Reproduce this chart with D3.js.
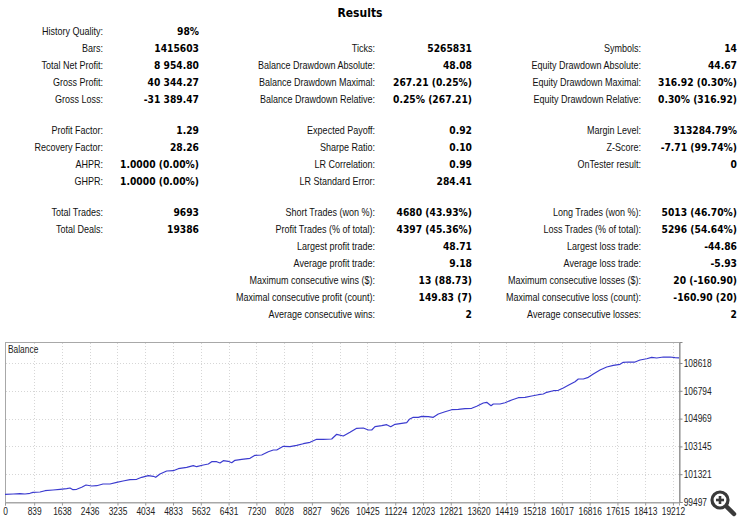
<!DOCTYPE html>
<html>
<head>
<meta charset="utf-8">
<script src="https://cdn.jsdelivr.net/npm/d3@7"></script>
<style>
  html, body { margin: 0; padding: 0; background: #fff; }
  svg { display: block; }
  .lbl { font-family: 'Liberation Sans', Arial, sans-serif; font-size: 11.4px; fill: #111; }
  .val { font-family: 'DejaVu Sans', sans-serif; font-size: 10px; font-weight: bold; fill: #000; }
  .ttl { font-family: 'DejaVu Sans', sans-serif; font-size: 12px; font-weight: bold; fill: #000; }
  .ax  { font-family: 'Liberation Sans', Arial, sans-serif; font-size: 10px; fill: #222; }
</style>
</head>
<body>
<svg id="chart" width="750" height="529"></svg>
<script>
// ---------------- DATA ----------------
const title = "Results";

const col1Labels = ["History Quality:", "Bars:", "Total Net Profit:", "Gross Profit:", "Gross Loss:", null,
  "Profit Factor:", "Recovery Factor:", "AHPR:", "GHPR:", null,
  "Total Trades:", "Total Deals:", null, null, null, null, null];
const col1Values = ["98%", "1415603", "8 954.80", "40 344.27", "-31 389.47", null,
  "1.29", "28.26", "1.0000 (0.00%)", "1.0000 (0.00%)", null,
  "9693", "19386", null, null, null, null, null];

const col2Labels = [null, "Ticks:", "Balance Drawdown Absolute:", "Balance Drawdown Maximal:", "Balance Drawdown Relative:", null,
  "Expected Payoff:", "Sharpe Ratio:", "LR Correlation:", "LR Standard Error:", null,
  "Short Trades (won %):", "Profit Trades (% of total):", "Largest profit trade:", "Average profit trade:",
  "Maximum consecutive wins ($):", "Maximal consecutive profit (count):", "Average consecutive wins:"];
const col2Values = [null, "5265831", "48.08", "267.21 (0.25%)", "0.25% (267.21)", null,
  "0.92", "0.10", "0.99", "284.41", null,
  "4680 (43.93%)", "4397 (45.36%)", "48.71", "9.18", "13 (88.73)", "149.83 (7)", "2"];

const col3Labels = [null, "Symbols:", "Equity Drawdown Absolute:", "Equity Drawdown Maximal:", "Equity Drawdown Relative:", null,
  "Margin Level:", "Z-Score:", "OnTester result:", null, null,
  "Long Trades (won %):", "Loss Trades (% of total):", "Largest loss trade:", "Average loss trade:",
  "Maximum consecutive losses ($):", "Maximal consecutive loss (count):", "Average consecutive losses:"];
const col3Values = [null, "14", "44.67", "316.92 (0.30%)", "0.30% (316.92)", null,
  "313284.79%", "-7.71 (99.74%)", "0", null, null,
  "5013 (46.70%)", "5296 (54.64%)", "-44.86", "-5.93", "20 (-160.90)", "-160.90 (20)", "2"];

// Balance curve (deal number, balance)
const dealIdx = [0, 239, 431, 575, 719, 805, 1007, 1151, 1381, 1582, 1775, 1870, 1956, 2062, 2206, 2330, 2494, 2638, 2819, 3020,
  3213, 3394, 3595, 3788, 3932, 4122, 4266, 4335, 4458, 4651, 4841, 4985, 5226, 5416, 5514, 5704, 5848, 5945, 6089, 6184,
  6279, 6423, 6521, 6615, 6808, 7047, 7191, 7383, 7573, 7717, 7815, 8005, 8197, 8390, 8580, 8773, 8965, 9155, 9397, 9541,
  9730, 9923, 10116, 10306, 10450, 10548, 10642, 10835, 10979, 11094, 11218, 11410, 11554, 11629, 11744, 11888, 11985, 12175, 12319, 12463,
  12656, 12848, 13038, 13231, 13424, 13568, 13757, 13855, 13979, 14045, 14238, 14382, 14574, 14764, 14957, 15150, 15340, 15483, 15581, 15771,
  15915, 16058, 16202, 16395, 16490, 16634, 16778, 16922, 17114, 17307, 17497, 17689, 17784, 17928, 18121, 18265, 18457, 18601, 18745, 18935,
  19127, 19271, 19386];
const balance = [100000, 100022, 100042, 100022, 100068, 100133, 100153, 100238, 100284, 100330, 100370, 100416, 100304, 100330, 100461, 100612, 100547, 100566, 100678, 100678,
  100789, 100875, 100960, 100986, 101118, 101223, 101183, 101118, 101334, 101531, 101551, 101682, 101774, 101879, 101813, 101925, 101990, 102141, 102141, 102056,
  102207, 102167, 102075, 102233, 102299, 102364, 102561, 102581, 102797, 102909, 102909, 103152, 103125, 103217, 103322, 103414, 103611, 103611, 103630, 103939,
  103827, 104070, 104332, 104352, 104221, 104221, 104438, 104503, 104569, 104438, 104595, 104661, 104700, 104923, 105054, 105054, 105120, 105094, 105054, 105270,
  105421, 105553, 105579, 105618, 105645, 105776, 105993, 106038, 105815, 105927, 105927, 106012, 106189, 106340, 106366, 106452, 106537, 106583, 106694, 106799,
  106826, 106977, 107154, 107390, 107567, 107567, 107679, 107895, 108158, 108354, 108466, 108532, 108663, 108682, 108682, 108814, 108899, 108991, 108945, 109010,
  109010, 108965, 108955];

const xTicks = [0, 839, 1638, 2436, 3235, 4034, 4833, 5632, 6431, 7230, 8028, 8827, 9626, 10425, 11224, 12023, 12821, 13620, 14419, 15218, 16017, 16816, 17615, 18413, 19212];
const yTicks = [99497, 101321, 103145, 104969, 106794, 108618];
const xMax = 19386;
const yMin = 99497, yMax = 109996;
const chartLabel = "Balance";

// ---------------- DRAW ----------------
const svg = d3.select("#chart");
const LBL_SX = 0.79, VAL_SX = 0.92, AX_SX = 0.84;

function putText(g, cls, x, y, txt, anchor, sx) {
  return g.append("text").attr("class", cls)
    .attr("transform", `translate(${x},${y}) scale(${sx},1)`)
    .attr("dy", "0.36em").attr("text-anchor", anchor).text(txt);
}

// Title
putText(svg, "ttl", 360, 13, title, "middle", 0.9);

// Table
function rowY(i) {
  let blanks = 0;
  [5, 10].forEach(b => { if (i > b) blanks++; });
  return 31 + 17 * i - 3 * blanks;
}
const cols = [
  { labels: col1Labels, values: col1Values, lx: 103, vx: 199 },
  { labels: col2Labels, values: col2Values, lx: 375, vx: 472 },
  { labels: col3Labels, values: col3Values, lx: 641, vx: 737 }
];
cols.forEach(c => {
  const g = svg.append("g");
  c.labels.forEach((t, i) => { if (t) putText(g, "lbl", c.lx, rowY(i), t, "end", LBL_SX); });
  c.values.forEach((t, i) => { if (t) putText(g, "val", c.vx, rowY(i), t, "end", VAL_SX); });
});

// Chart
const L = 5, T = 342, R = 679, B = 502;
const x = d3.scaleLinear().domain([0, xMax]).range([L, R]);
const y = d3.scaleLinear().domain([yMin, yMax]).range([B, T]);

const cg = svg.append("g");
cg.append("rect").attr("x", L + 0.5).attr("y", T + 0.5).attr("width", R - L).attr("height", B - T)
  .attr("fill", "#fff").attr("stroke", "#a8a8a8");

// grid
cg.selectAll("line.vg").data(xTicks.filter(t => t > 0)).join("line")
  .attr("x1", d => Math.round(x(d)) + 0.5).attr("x2", d => Math.round(x(d)) + 0.5)
  .attr("y1", T + 1).attr("y2", B)
  .attr("stroke", "#d6d6d6").attr("stroke-dasharray", "1,2");
cg.selectAll("line.hg").data(yTicks.filter(t => t > yMin)).join("line")
  .attr("x1", L + 1).attr("x2", R)
  .attr("y1", d => Math.round(y(d)) + 0.5).attr("y2", d => Math.round(y(d)) + 0.5)
  .attr("stroke", "#d6d6d6").attr("stroke-dasharray", "1,2");

// line
const line = d3.line().x((d, i) => x(dealIdx[i])).y(d => y(d));
cg.append("path").datum(balance).attr("d", line)
  .attr("fill", "none").attr("stroke", "#3b3bcf").attr("stroke-width", 1.2).attr("stroke-linejoin", "round");

// axes
const xAxis = d3.axisBottom(x).tickValues(xTicks).tickSize(3).tickPadding(2).tickFormat(d => d);
const xg = cg.append("g").attr("transform", `translate(0,${B + 0.5})`).call(xAxis);
xg.attr("font-family", null).attr("font-size", null);
xg.select(".domain").attr("stroke", "#a8a8a8");
xg.selectAll(".tick line").attr("stroke", "#999");
xg.selectAll(".tick text").attr("class", "ax").attr("fill", null)
  .attr("transform", `scale(${AX_SX},1)`);

const yAxis = d3.axisRight(y).tickValues(yTicks).tickSize(3).tickPadding(2).tickFormat(d => d);
const yg = cg.append("g").attr("transform", `translate(${R + 0.5},0)`).call(yAxis);
yg.attr("font-family", null).attr("font-size", null);
yg.select(".domain").attr("stroke", "#888");
yg.selectAll(".tick line").attr("stroke", "#888");
yg.selectAll(".tick text").attr("class", "ax").attr("fill", null)
  .attr("transform", `scale(${AX_SX},1)`);

putText(cg, "ax", L + 3, T + 7, chartLabel, "start", AX_SX).attr("fill", "#111");

// magnifier icon
const mg = svg.append("g").attr("transform", "translate(720,500)");
mg.append("line").attr("x1", 6).attr("y1", 6).attr("x2", 14).attr("y2", 14)
  .attr("stroke", "#3a3a3a").attr("stroke-width", 4.5).attr("stroke-linecap", "round");
mg.append("circle").attr("r", 8).attr("fill", "#fff").attr("stroke", "#3a3a3a").attr("stroke-width", 3.2);
mg.append("line").attr("x1", -4).attr("x2", 4).attr("y1", 0).attr("y2", 0).attr("stroke", "#3a3a3a").attr("stroke-width", 2.6);
mg.append("line").attr("y1", -4).attr("y2", 4).attr("x1", 0).attr("x2", 0).attr("stroke", "#3a3a3a").attr("stroke-width", 2.6);
</script>
</body>
</html>
